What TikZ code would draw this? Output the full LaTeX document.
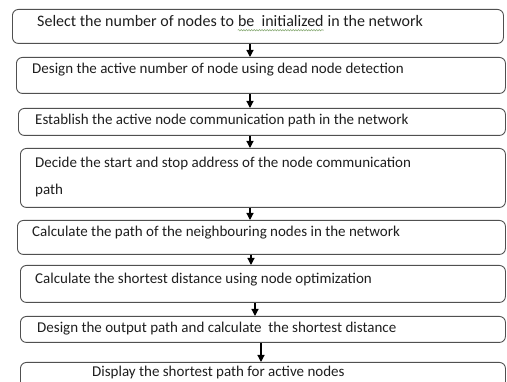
\documentclass[tikz,border=0pt]{standalone}
\usepackage{fontspec}
\setmainfont{Carlito}
\usetikzlibrary{arrows.meta,decorations.pathmorphing}
\definecolor{boxgray}{HTML}{505050}
\definecolor{textgray}{HTML}{1E1E1E}
\definecolor{squiggle}{HTML}{7FA36A}
\begin{document}
\begin{tikzpicture}[x=1pt,y=-1pt,
  box/.style={draw=boxgray, line width=0.9pt, rounded corners=6pt, inner sep=0pt, anchor=north west},
  txt/.style={anchor=base west, inner sep=0pt, font=\fontsize{15}{18}\selectfont, text=textgray},
  bigtxt/.style={txt, font=\fontsize{16}{19}\selectfont},
  flow/.style={-{Triangle[length=7pt,width=7pt]}, line width=1.2pt, black}]
\useasboundingbox (0,0) rectangle (507,382);
\clip (0,0) rectangle (507,382);

% process boxes
\node[box, minimum width=491pt, minimum height=34pt] (b1) at (12,9) {};
\node[box, minimum width=489pt, minimum height=36pt] (b2) at (16,57) {};
\node[box, minimum width=487pt, minimum height=27pt] (b3) at (18,108) {};
\node[box, minimum width=485pt, minimum height=59pt] (b4) at (20,148) {};
\node[box, minimum width=488pt, minimum height=34pt] (b5) at (17,220) {};
\node[box, minimum width=485pt, minimum height=37pt] (b6) at (20,265) {};
\node[box, minimum width=485pt, minimum height=26pt] (b7) at (20,316) {};
\node[box, minimum width=485pt, minimum height=40pt] (b8) at (20,362) {};

% first box text, split so the flagged words can be underlined
\node[bigtxt] (t1a) at (37,26.7) {Select the number of nodes to};
\node[bigtxt] (t1b) at ([xshift=3.6pt]t1a.base east) {be~ initialized};
\node[bigtxt] (t1c) at ([xshift=3.6pt]t1b.base east) {in the network};
\draw[squiggle, line width=0.5pt, decorate,
  decoration={snake, amplitude=0.7pt, segment length=2.6pt}]
  ([yshift=-3.5pt]t1b.base west) -- ([yshift=-3.5pt]t1b.base east);

% remaining box texts
\node[txt] (t2) at (32,74) {Design the active number of node using dead node detection};
\node[txt] (t3) at (35,125) {Establish the active node communication path in the network};
\node[txt] (t4a) at (35,167.3) {Decide the start and stop address of the node communication};
\node[txt] (t4b) at (35,195) {path};
\node[txt] (t5) at (32,236.7) {Calculate the path of the neighbouring nodes in the network};
\node[txt] (t6) at (35,283.3) {Calculate the shortest distance using node optimization};
\node[txt] (t7) at (37,332.7) {Design the output path and calculate~ the shortest distance};
\node[txt] (t8) at (92,376.7) {Display the shortest path for active nodes};

% arrow columns
\coordinate (c1) at (250,0);
\coordinate (c2) at (250,0);
\coordinate (c3) at (250,0);
\coordinate (c4) at (250,0);
\coordinate (c5) at (251,0);
\coordinate (c6) at (255,0);
\coordinate (c7) at (261,0);

% connectors
\draw[flow] (b1.south -| c1) -- (b2.north -| c1);
\draw[flow] (b2.south -| c2) -- (b3.north -| c2);
\draw[flow] (b3.south -| c3) -- (b4.north -| c3);
\draw[flow] (b4.south -| c4) -- (b5.north -| c4);
\draw[flow] (b5.south -| c5) -- (b6.north -| c5);
\draw[flow] (b6.south -| c6) -- (b7.north -| c6);
\draw[flow] (b7.south -| c7) -- (b8.north -| c7);
\end{tikzpicture}
\end{document}
